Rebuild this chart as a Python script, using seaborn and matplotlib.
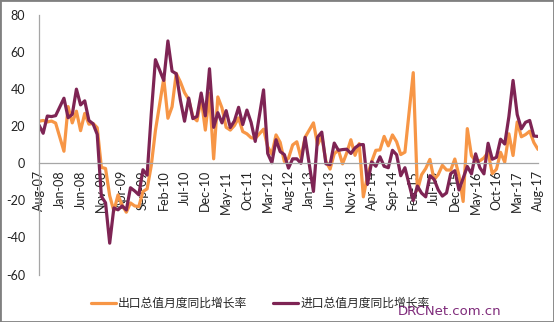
import numpy as np
import pandas as pd
import matplotlib
matplotlib.use("Agg")
import matplotlib.pyplot as plt
from matplotlib.patches import Rectangle
import seaborn as sns

# Monthly year-on-year growth (%), Aug 2007 - Aug 2017; None = month not reported
export_growth = (
    [22.7, 23.1, 22.3, 22.8, 21.7]                                            # 2007 Aug-Dec
    + [None, 6.5, 30.6, 21.8, 28.1, 17.6, 26.9, 21.1, 21.5, 19.2, -2.2, -2.8]     # 2008
    + [-17.5, -25.7, -17.1, -22.6, -26.4, -21.4, -23.0, -23.4, -15.2, -13.8, -1.2, 17.7]  # 2009
    + [None, 45.7, 24.3, 30.5, 48.5, 43.9, 38.1, 34.4, 25.1, 22.9, 34.9, 17.9]    # 2010
    + [37.7, 2.4, 35.8, 29.9, 19.4, 17.9, 20.4, 24.5, 17.1, 15.9, 13.8, 13.4]     # 2011
    + [None, 18.4, 8.9, 4.9, 15.3, 11.3, 1.0, 2.7, 9.9, 11.6, 2.9, 14.1]          # 2012
    + [None, 21.8, 10.0, 14.7, 1.0, -3.1, 5.1, 7.2, -0.3, 5.6, 12.7, 4.3]         # 2013
    + [10.6, -18.1, -6.6, 0.9, 7.0, 7.2, 14.5, 9.4, 15.3, 11.6, 4.7, 6.0]         # 2014
    + [None, 48.9, -14.6, -6.2, -2.8, 2.1, -8.9, -6.1, -1.1, -3.6, -3.7, 2.3]     # 2015
    + [-6.6, -20.6, 18.7, 4.1, 1.2, 1.3, 2.9, 5.9, -5.6, -3.2, 5.9, 0.6]          # 2016
    + [15.9, 4.2, 22.3, 14.3, 15.5, 17.3, 11.2, 7.5]                              # 2017 Jan-Aug
)

import_growth = (
    [20.6, 16.2, 25.5, 25.2, 25.7]
    + [None, 35.1, 24.6, 26.4, 40.0, 31.5, 33.7, 23.1, 21.3, 15.6, -17.9, -21.3]
    + [-43.1, -24.1, -25.1, -23.0, -25.2, -13.2, -14.9, -17.0, -3.5, -6.4, 26.7, 55.9]
    + [None, 44.7, 66.0, 49.7, 48.3, 34.1, 22.7, 35.2, 24.1, 25.3, 37.9, 25.6]
    + [51.0, 19.4, 27.3, 21.8, 28.4, 19.3, 22.9, 30.2, 20.9, 28.7, 22.1, 11.8]
    + [None, 39.6, 5.3, 0.3, 12.7, 6.3, 4.7, -2.6, 2.4, 2.4, 0.0, 14.0]
    + [None, -15.2, 14.1, 16.8, -0.3, -0.7, 10.9, 7.0, 7.4, 7.6, 5.3, 8.3]
    + [10.0, 10.1, -11.3, 0.8, -1.6, 3.5, -1.6, -2.4, 7.0, 4.6, -6.7, -2.4]
    + [None, -20.1, -12.3, -16.1, -18.1, -6.7, -8.6, -14.3, -17.7, -16.0, -5.6, -4.0]
    + [-14.4, -8.0, -1.7, -5.7, 5.1, -2.3, -5.7, 10.8, 2.2, 3.2, 13.0, 10.4]
    + [25.2, 44.7, 26.3, 18.6, 22.1, 23.1, 14.7, 14.5]
)

series_names = ["出口总值月度同比增长率", "进口总值月度同比增长率"]
tick_labels = ["Aug-07", "Jan-08", "Jun-08", "Nov-08", "Apr-09", "Sep-09", "Feb-10",
               "Jul-10", "Dec-10", "May-11", "Oct-11", "Mar-12", "Aug-12", "Jan-13",
               "Jun-13", "Nov-13", "Apr-14", "Sep-14", "Feb-15", "Jul-15", "Dec-15",
               "May-16", "Oct-16", "Mar-17", "Aug-17"]
y_ticks = [-60, -40, -20, 0, 20, 40, 60, 80]

n = len(export_growth)
df = pd.concat([
    pd.DataFrame({"month": np.arange(n), "growth": export_growth, "series": series_names[0]}),
    pd.DataFrame({"month": np.arange(n), "growth": import_growth, "series": series_names[1]}),
], ignore_index=True)
df["growth"] = pd.to_numeric(df["growth"])
df = df.dropna()

sns.set_theme(style="white")
plt.rcParams["font.family"] = ["Lato", "Noto Sans CJK SC", "DejaVu Sans"]

fig = plt.figure(figsize=(5.54, 3.22), dpi=100)
ax = fig.add_axes([39 / 554, 1 - 274.5 / 322, 499 / 554, 259.5 / 322])

palette = {series_names[0]: "#F79646", series_names[1]: "#7E2454"}
sns.lineplot(data=df, x="month", y="growth", hue="series", palette=palette,
             linewidth=2.3, ax=ax, legend=True, sort=True)

# Category axis crosses at zero; spine placement first, since it resets the ticks
for side in ["top", "right"]:
    ax.spines[side].set_visible(False)
ax.spines["bottom"].set_position(("data", 0))
ax.spines["bottom"].set_color("#a6a6a6")
ax.spines["bottom"].set_linewidth(0.9)
ax.spines["left"].set_color("#a6a6a6")
ax.spines["left"].set_linewidth(0.9)
ax.grid(False)

ax.set_xlim(0, n - 1)
ax.set_ylim(-60, 80)
ax.set_xlabel("")
ax.set_ylabel("")

ax.set_xticks(np.arange(0, n, 5))
ax.set_xticklabels(tick_labels, rotation=90, fontsize=9, color="#222222")
ax.set_yticks(y_ticks)
ax.set_yticklabels([str(v) for v in y_ticks], fontsize=9, color="#222222")
ax.tick_params(axis="x", length=0, pad=5)
ax.tick_params(axis="y", length=0, pad=10)

handles, labels = ax.get_legend_handles_labels()
ax.legend(handles, labels, loc="center", bbox_to_anchor=(0.47, 0.058),
          bbox_transform=fig.transFigure, ncol=2, frameon=False,
          prop={"family": ["Noto Sans CJK SC", "DejaVu Sans"], "size": 8.5},
          handlelength=2.1, handletextpad=0.2, columnspacing=2.2)

fig.text(0.905, 0.032, "DRCNet.com.cn", ha="right", va="center",
         fontsize=9.5, color="#7E2A7A", family="DejaVu Sans")

fig.patches.append(Rectangle((0, 0), 1, 1, transform=fig.transFigure, fill=False,
                             edgecolor="#808080", linewidth=2.0))

fig.savefig("out.png", dpi=100, facecolor="white")
